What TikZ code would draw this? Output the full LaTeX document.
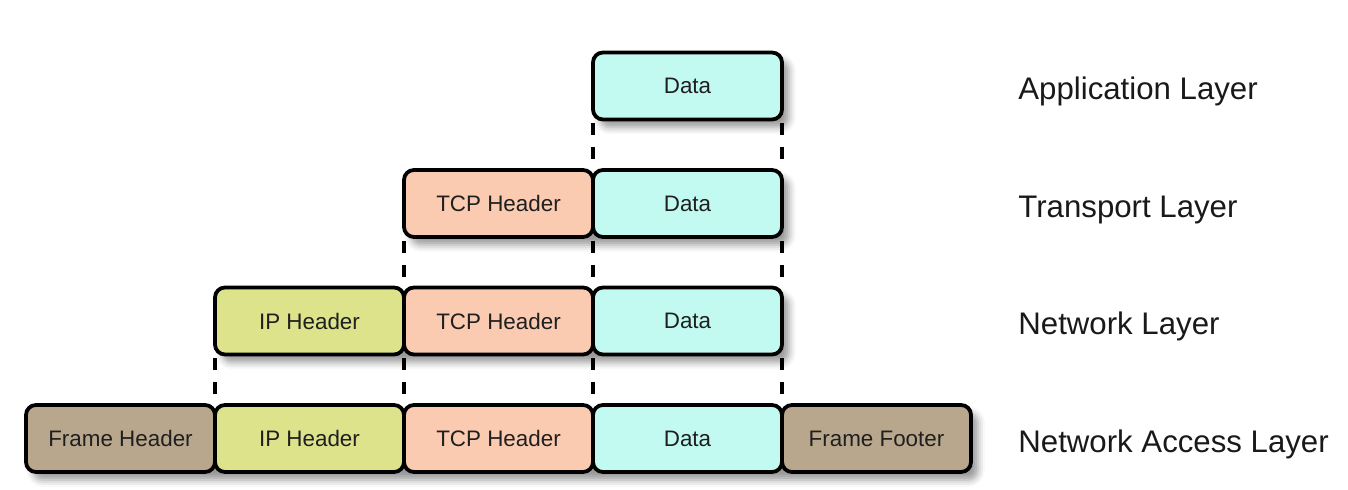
\documentclass[tikz,border=0pt]{standalone}
\usepackage{fontspec}
\setmainfont{Liberation Sans}
\usepackage{xcolor}
\definecolor{datacyan}{HTML}{C2FAF2}
\definecolor{tcporange}{HTML}{FACBB1}
\definecolor{ipgreen}{HTML}{DCE38A}
\definecolor{framebrown}{HTML}{B9A78D}
\usetikzlibrary{positioning,shadows.blur,backgrounds}
\tikzset{
    segment/.style={draw=black, line width=1.9pt, rounded corners=5pt, outer sep=0pt, inner sep=0pt,
        minimum width=94.5pt, minimum height=33.5pt, text=black!88,
        font=\fontsize{11.2}{13}\selectfont},
    data seg/.style={segment, fill=datacyan},
    tcp seg/.style={segment, fill=tcporange},
    ip seg/.style={segment, fill=ipgreen},
    frame seg/.style={segment, fill=framebrown},
    row shadow/.style={rounded corners=5pt,
        blur shadow={shadow xshift=3.5pt, shadow yshift=-4pt, shadow blur radius=3.5pt, shadow opacity=40}},
    layer label/.style={anchor=base west, inner sep=0pt, text=black!90, font=\fontsize{15.6}{18}\selectfont},
    encap line/.style={line width=1.6pt, dash pattern=on 6pt off 6pt, dash phase=10pt},
}

\begin{document}
\begin{tikzpicture}[x=0.5pt,y=-0.5pt]
        \useasboundingbox (0,0) rectangle (1348,490);

        % network access layer
        \node[frame seg] (accfh) at (120.5,438.5) {Frame Header};
        \node[ip seg, right=0pt of accfh] (accip) {IP Header};
        \node[tcp seg, right=0pt of accip] (acctcp) {TCP Header};
        \node[data seg, right=0pt of acctcp] (accdata) {Data};
        \node[frame seg, right=0pt of accdata] (accff) {Frame Footer};

        % network layer
        \node[data seg, above=25.25pt of accdata] (netdata) {Data};
        \node[tcp seg, left=0pt of netdata] (nettcp) {TCP Header};
        \node[ip seg, left=0pt of nettcp] (netip) {IP Header};

        % transport layer
        \node[data seg, above=25.25pt of netdata] (trndata) {Data};
        \node[tcp seg, left=0pt of trndata] (trntcp) {TCP Header};

        % application layer
        \node[data seg, above=25.25pt of trndata] (appdata) {Data};

        \begin{scope}[on background layer]
            \foreach \a/\b in {accfh/accff, netip/netdata, trntcp/trndata, appdata/appdata}
                \path[row shadow] (\a.north west) rectangle (\b.south east);
        \end{scope}

        \foreach \u/\v in {appdata/trndata, trntcp/nettcp, trndata/netdata, netip/accip, nettcp/acctcp, netdata/accdata}
            \draw[encap line] (\u.south west) -- (\v.north west);
        \foreach \u/\v in {appdata/trndata, trndata/netdata, netdata/accdata}
            \draw[encap line] (\u.south east) -- (\v.north east);

        \coordinate (lblcol) at (1018,0);
        \node[layer label] (applbl) at ([yshift=-7pt]appdata.center -| lblcol) {Application Layer};
        \node[layer label] (trnlbl) at ([yshift=-7pt]trndata.center -| lblcol) {Transport Layer};
        \node[layer label] (netlbl) at ([yshift=-7pt]netdata.center -| lblcol) {Network Layer};
        \node[layer label] (acclbl) at ([yshift=-7pt]accdata.center -| lblcol) {Network Access Layer};
    \end{tikzpicture}
\end{document}
